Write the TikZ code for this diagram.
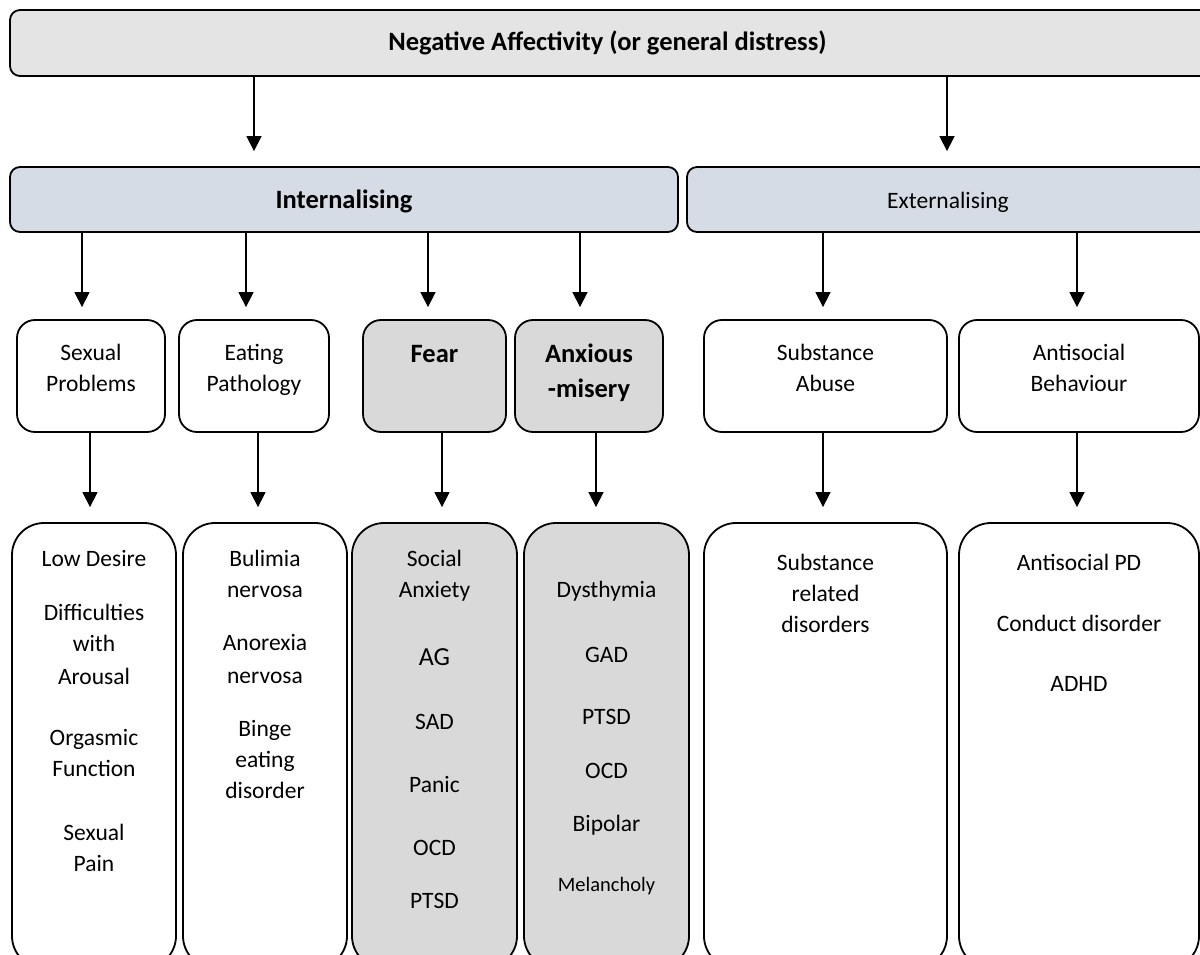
\documentclass[tikz,border=0pt]{standalone}
\usepackage{fontspec}
\setmainfont{Carlito}
\usetikzlibrary{arrows.meta}
\newcommand\tstrut{\rule{0pt}{20pt}}
\definecolor{negfill}{HTML}{E4E4E4}
\definecolor{intfill}{HTML}{D6DCE5}
\definecolor{grfill}{HTML}{D9D9D9}
\begin{document}
\begin{tikzpicture}[x=1pt,y=-1pt,
  box/.style={draw=black, line width=1.8pt, inner sep=0pt},
  topbox/.style={box, rounded corners=10pt},
  midbox/.style={box, rounded corners=18pt, minimum height=112pt},
  botbox/.style={box, rounded corners=32pt, minimum height=445pt},
  txt/.style={font=\fontsize{23.5}{31}\selectfont, align=center, inner sep=0pt},
  btxt/.style={font=\fontsize{26.5}{35}\selectfont\bfseries, align=center, inner sep=0pt},
  arr/.style={line width=1.5pt, -{Triangle[length=15pt,width=15pt]}},
]
\useasboundingbox (0,0) rectangle (1200,955);
\clip (0,0) rectangle (1200,955);

% top level
\node[topbox, fill=negfill, minimum width=1205pt, minimum height=66pt] (neg) at (612.5,43) {};
\node[btxt, anchor=base] (negt) at (607.5,51) {Negative Affectivity (or general distress)};

% second level
\node[topbox, fill=intfill, minimum width=668pt, minimum height=65pt] (int) at (344,199.5) {};
\node[btxt, anchor=base] (intt) at (344,208) {Internalising};
\node[topbox, fill=intfill, minimum width=522pt, minimum height=65pt] (ext) at (948,199.5) {};
\node[txt, anchor=base] (extt) at (948,208) {Externalising};

% third level
\node[midbox, minimum width=148pt] (sp) at (91,376) {};
\node[midbox, minimum width=150pt] (ep) at (254,376) {};
\node[midbox, fill=grfill, minimum width=143pt] (fe) at (434.5,376) {};
\node[midbox, fill=grfill, minimum width=148pt] (am) at (589,376) {};
\node[midbox, minimum width=243pt] (sa) at (825.5,376) {};
\node[midbox, minimum width=240pt] (ab) at (1079,376) {};

\node[txt, anchor=north] (spt) at (91,340) {\tstrut Sexual\\Problems};
\node[txt, anchor=north] (ept) at (254,340) {\tstrut Eating\\Pathology};
\node[btxt, anchor=base] (fet) at (434.5,362) {Fear};
\node[btxt, anchor=north] (amt) at (589,342) {\tstrut Anxious\\-misery};
\node[txt, anchor=north] (sat) at (825.5,340) {\tstrut Substance\\Abuse};
\node[txt, anchor=north] (abt) at (1079,340) {\tstrut Antisocial\\Behaviour};

% bottom level
\node[botbox, minimum width=164pt] (b1) at (94,745.5) {};
\node[botbox, minimum width=164pt] (b2) at (265,745.5) {};
\node[botbox, fill=grfill, minimum width=165pt] (b3) at (434.5,745.5) {};
\node[botbox, fill=grfill, minimum width=165pt] (b4) at (606.5,745.5) {};
\node[botbox, minimum width=243pt] (b5) at (825.5,745.5) {};
\node[botbox, minimum width=240pt] (b6) at (1079,745.5) {};

\node[txt, anchor=north] (b1t) at (94,546) {\tstrut Low Desire\\[23pt]Difficulties\\with\\[2pt]Arousal\\[30pt]Orgasmic\\Function\\[33pt]Sexual\\Pain};
\node[txt, anchor=north] (b2t) at (265,546) {\tstrut Bulimia\\nervosa\\[22pt]Anorexia\\[2pt]nervosa\\[22pt]Binge\\eating\\[0pt]disorder};
\node[txt, anchor=north] (b3t) at (434.5,546) {\tstrut Social\\[0pt]Anxiety\\[37pt]{\fontsize{26}{31}\selectfont AG}\\[33pt]SAD\\[32pt]Panic\\[32pt]OCD\\[22pt]PTSD};
\node[txt, anchor=north] (b4t) at (606.5,577) {\tstrut Dysthymia\\[34pt]GAD\\[31pt]PTSD\\[23pt]OCD\\[22pt]Bipolar\\[29pt]{\fontsize{20.5}{25}\selectfont Melancholy}};
\node[txt, anchor=north] (b5t) at (825.5,550) {\tstrut Substance\\related\\disorders};
\node[txt, anchor=north] (b6t) at (1079,550) {\tstrut Antisocial PD\\[30pt]Conduct disorder\\[29pt]ADHD};

% arrow x positions
\coordinate (xa) at (254,0);
\coordinate (xb) at (947,0);
\coordinate (x1) at (82,0);
\coordinate (x2) at (246,0);
\coordinate (x3) at (428,0);
\coordinate (x4) at (580,0);
\coordinate (x5) at (823,0);
\coordinate (x6) at (1077,0);
\coordinate (y1) at (90,0);
\coordinate (y2) at (258,0);
\coordinate (y3) at (442,0);
\coordinate (y4) at (596,0);

\draw[arr, shorten >=15pt] (neg.south -| xa) -- (int.north -| xa);
\draw[arr, shorten >=15pt] (neg.south -| xb) -- (ext.north -| xb);

\draw[arr, shorten >=12pt] (int.south -| x1) -- (sp.north -| x1);
\draw[arr, shorten >=12pt] (int.south -| x2) -- (ep.north -| x2);
\draw[arr, shorten >=12pt] (int.south -| x3) -- (fe.north -| x3);
\draw[arr, shorten >=12pt] (int.south -| x4) -- (am.north -| x4);
\draw[arr, shorten >=12pt] (ext.south -| x5) -- (sa.north -| x5);
\draw[arr, shorten >=12pt] (ext.south -| x6) -- (ab.north -| x6);

\draw[arr, shorten >=15pt] (sp.south -| y1) -- (b1.north -| y1);
\draw[arr, shorten >=15pt] (ep.south -| y2) -- (b2.north -| y2);
\draw[arr, shorten >=15pt] (fe.south -| y3) -- (b3.north -| y3);
\draw[arr, shorten >=15pt] (am.south -| y4) -- (b4.north -| y4);
\draw[arr, shorten >=15pt] (sa.south -| x5) -- (b5.north -| x5);
\draw[arr, shorten >=15pt] (ab.south -| x6) -- (b6.north -| x6);
\end{tikzpicture}
\end{document}
